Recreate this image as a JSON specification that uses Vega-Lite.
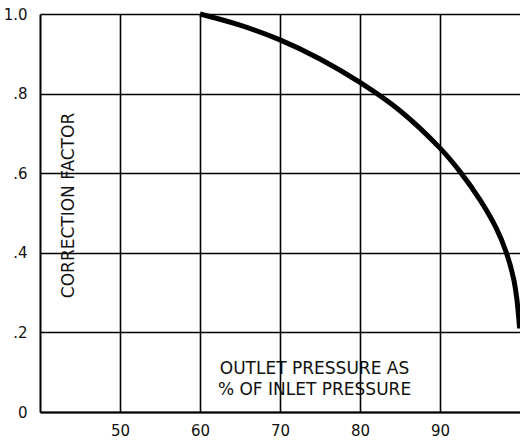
{
  "$schema": "https://vega.github.io/schema/vega-lite/v6.json",
  "width": 480,
  "height": 398,
  "autosize": {"type": "none"},
  "padding": {"left": 40, "top": 14, "right": 0, "bottom": 29},
  "background": "white",
  "config": {
    "view": {"stroke": null},
    "font": "DejaVu Sans",
    "axis": {"labelFont": "DejaVu Sans", "titleFont": "DejaVu Sans", "labelColor": "#111", "titleColor": "#111", "titleFontWeight": "normal"}
  },
  "data": {
    "values": [
      {"pressure": 60, "factor": 1.0},
      {"pressure": 65, "factor": 0.972},
      {"pressure": 70, "factor": 0.935},
      {"pressure": 75, "factor": 0.887},
      {"pressure": 80, "factor": 0.828},
      {"pressure": 85, "factor": 0.757},
      {"pressure": 90, "factor": 0.663},
      {"pressure": 92.5, "factor": 0.604},
      {"pressure": 95, "factor": 0.533},
      {"pressure": 97, "factor": 0.463},
      {"pressure": 98.3, "factor": 0.4},
      {"pressure": 99.2, "factor": 0.335},
      {"pressure": 99.6, "factor": 0.285},
      {"pressure": 99.85, "factor": 0.235},
      {"pressure": 99.95, "factor": 0.21}
    ]
  },
  "mark": {"type": "line", "color": "black", "strokeWidth": 5, "interpolate": "catmull-rom", "clip": false},
  "encoding": {
    "x": {
      "field": "pressure",
      "type": "quantitative",
      "scale": {"domain": [40, 100], "nice": false, "zero": false},
      "axis": {
        "values": [50, 60, 70, 80, 90],
        "grid": true,
        "gridColor": "black",
        "gridWidth": 1.6,
        "gridOpacity": 1,
        "domain": true,
        "domainColor": "black",
        "domainWidth": 2,
        "ticks": false,
        "labelPadding": 11,
        "labelFontSize": 15,
        "title": ["OUTLET PRESSURE AS", "% OF INLET PRESSURE"],
        "titleFontSize": 17,
        "titleLineHeight": 21,
        "titleX": 274,
        "titleY": -52,
        "titleAlign": "center",
        "titleBaseline": "top",
        "titleAnchor": null
      }
    },
    "y": {
      "field": "factor",
      "type": "quantitative",
      "scale": {"domain": [0, 1], "nice": false},
      "axis": {
        "values": [0, 0.2, 0.4, 0.6, 0.8, 1.0],
        "labelExpr": "datum.value == 1 ? '1.0' : (datum.value == 0 ? '0' : replace(format(datum.value, '.1f'), '0.', '.'))",
        "grid": true,
        "gridColor": "black",
        "gridWidth": 1.6,
        "gridOpacity": 1,
        "domain": true,
        "domainColor": "black",
        "domainWidth": 2,
        "ticks": false,
        "labelPadding": 13,
        "labelFontSize": 15,
        "title": "CORRECTION FACTOR",
        "titleFontSize": 17,
        "titleAngle": -90,
        "titleX": 28,
        "titleY": 191,
        "titleAlign": "center",
        "titleBaseline": "middle",
        "titleAnchor": null
      }
    }
  }
}
